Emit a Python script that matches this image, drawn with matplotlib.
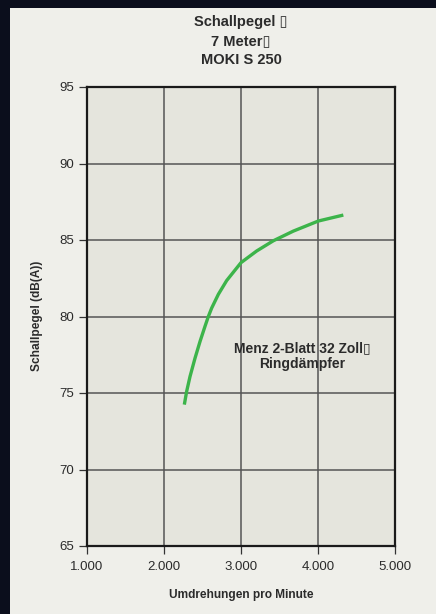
"""
Schallpegel-Kurve MOKI S 250 (7 Meter), nachgebaut mit matplotlib.
Speichert nach out.png
"""

import matplotlib.pyplot as plt
from matplotlib.ticker import FuncFormatter

# Daten
rpm = [2264, 2294, 2338, 2403, 2468, 2532, 2576, 2619, 2706, 2814, 3000,
       3203, 3420, 3679, 4004, 4329]
schallpegel = [74.24, 75.1, 76.08, 77.28, 78.37, 79.35, 80.0, 80.55, 81.45, 82.35, 83.52,
               84.28, 84.95, 85.58, 86.24, 86.63]

x_ticks = [1000, 2000, 3000, 4000, 5000]
y_ticks = [65, 70, 75, 80, 85, 90, 95]

title_lines = ['Schallpegel \u25af', '7 Meter\u25af', 'MOKI S 250']
curve_label = 'Menz 2-Blatt 32 Zoll\u25af\nRingd\u00e4mpfer'
x_label = 'Umdrehungen pro Minute'
y_label = 'Schallpegel (dB(A))'

fonts = ['Liberation Sans', 'DejaVu Sans']
plt.rcParams['font.family'] = fonts
text_col = '#2b2b2b'

fig = plt.figure(figsize=(4.36, 6.14), dpi=100, facecolor='#0b0e1c')

# heller Hintergrund-Panel als eigene Achse ganz unten
bg = fig.add_axes([10 / 436, 0, 426 / 436, 1 - 8 / 614], zorder=-1)
bg.set_facecolor('#efefea')
bg.set_xticks([])
bg.set_yticks([])
for s in bg.spines.values():
    s.set_visible(False)

ax = fig.add_axes([87 / 436, 1 - 546 / 614, 308 / 436, 459 / 614], zorder=1)
ax.set_facecolor('#e5e5dd')

ax.plot(rpm, schallpegel, color='#3cb44a', lw=2.4, solid_capstyle='butt',
        solid_joinstyle='round', zorder=3)

ax.set_xlim(1000, 5000)
ax.set_ylim(65, 95)
ax.set_xticks(x_ticks)
ax.set_yticks(y_ticks)
ax.xaxis.set_major_formatter(FuncFormatter(lambda v, p: f'{int(v):,}'.replace(',', '.')))
ax.grid(True, color='#555555', lw=1.1, zorder=1)
ax.set_axisbelow(True)

for s in ax.spines.values():
    s.set_linewidth(1.6)
    s.set_color('#1a1a1a')

ax.tick_params(axis='both', direction='out', length=6, width=0.9, color='#333333',
               labelsize=9.5, labelcolor=text_col, pad=3)
ax.tick_params(axis='x', pad=5)

ax.text(3792, 77.4, curve_label, ha='center', va='center', fontsize=10,
        fontweight='bold', color=text_col, linespacing=1.15, zorder=4)

# Titel: drei Zeilen einzeln, damit der Zeilenabstand gleich bleibt
for i, line in enumerate(title_lines):
    fig.text(241 / 436, 1 - (22 + 19 * i) / 614, line, ha='center', va='center',
             fontsize=10.5, fontweight='bold', color=text_col)

fig.text(241 / 436, 1 - 595 / 614, x_label, ha='center', va='center', fontsize=8.6,
         fontweight='bold', color=text_col)
fig.text(37 / 436, 1 - 316 / 614, y_label, ha='center', va='center', rotation=90,
         fontsize=8.6, fontweight='bold', color=text_col)

fig.savefig('out.png', dpi=100, facecolor=fig.get_facecolor())
plt.close(fig)
